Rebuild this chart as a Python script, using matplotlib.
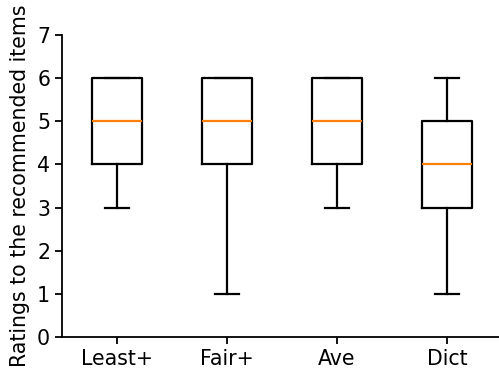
import matplotlib
matplotlib.use('Agg')
import matplotlib.pyplot as plt

# box statistics
labels = ['Least+', 'Fair+', 'Ave', 'Dict']
whislo = [3, 1, 3, 1]
q1 = [4, 4, 4, 3]
med = [5, 5, 5, 4]
q3 = [6, 6, 6, 5]
whishi = [6, 6, 6, 6]

stats = []
for i in range(len(labels)):
    stats.append({'label': labels[i], 'whislo': whislo[i], 'q1': q1[i],
                  'med': med[i], 'q3': q3[i], 'whishi': whishi[i], 'fliers': []})

plt.rcParams['font.size'] = 14.8

fig = plt.figure(figsize=(4.99, 3.72), dpi=100)
ax = fig.add_axes([62 / 499, 35 / 372, 440 / 499, 302 / 372])
ax.bxp(stats, widths=0.45, showfliers=False,
       boxprops=dict(linewidth=1.6), whiskerprops=dict(linewidth=1.6),
       capprops=dict(linewidth=1.6), medianprops=dict(color='#ff7f0e', linewidth=1.6))
ax.set_ylim(0, 7)
ax.set_xlim(0.5, 4.5)
ax.set_ylabel('Ratings to the recommended items', labelpad=5)
ax.tick_params(width=1.3, length=5)
for s in ['left', 'bottom']:
    ax.spines[s].set_linewidth(1.3)
ax.spines['top'].set_visible(False)
ax.spines['right'].set_visible(False)

fig.savefig('out.png', dpi=100)
plt.close()
